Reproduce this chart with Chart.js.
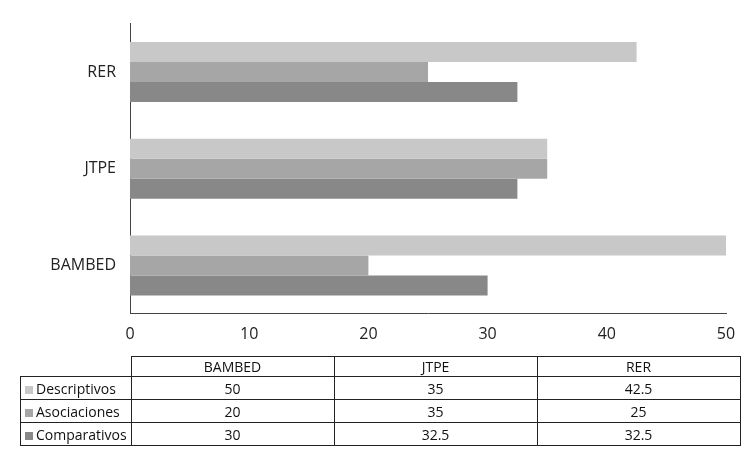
<!DOCTYPE html>
<html>
<head>
<meta charset="utf-8">
<script src="https://cdn.jsdelivr.net/npm/chart.js@4"></script>
<style>
  html, body { margin: 0; padding: 0; background: #fff; }
  #wrap { position: relative; width: 756px; height: 467px; font-family: "Open Sans", sans-serif; }
  #box { position: absolute; left: 0; top: 0; width: 756px; height: 361px; }
  table.dt { position: absolute; left: 20px; top: 356px; border-collapse: collapse; font-size: 14px; color: #111; }
  table.dt td { border: 1px solid #222; text-align: center; padding: 0; line-height: 19px; }
  table.dt tr.hd td { height: 18px; }
  table.dt tr.row td { height: 22px; }
  table.dt td.blank { border-top: none; border-left: none; }
  table.dt td.name { text-align: left; padding-left: 4px; white-space: nowrap; }
  .sw { display: inline-block; width: 8px; height: 8px; margin-right: 3px; vertical-align: 0px; }
</style>
</head>
<body>
<div id="wrap">
  <div id="box"><canvas id="barChart"></canvas></div>
  <table class="dt" id="dataTable"></table>
</div>
<script>
// ---- Data ----
const categories = ['BAMBED', 'JTPE', 'RER'];
const seriesNames = ['Descriptivos', 'Asociaciones', 'Comparativos'];
const descriptivos = [50, 35, 42.5];
const asociaciones = [20, 35, 25];
const comparativos = [30, 32.5, 32.5];
const xTicks = [0, 10, 20, 30, 40, 50];

const seriesValues = [descriptivos, asociaciones, comparativos];
const seriesColors = ['#c8c8c8', '#a6a6a6', '#888888'];

// ---- Chart ----
const ctx = document.getElementById('barChart');
new Chart(ctx, {
    type: 'bar',
    data: {
        labels: categories,
        datasets: seriesNames.map((name, i) => ({
            label: name,
            data: seriesValues[i],
            backgroundColor: seriesColors[i],
            borderWidth: 0,
            categoryPercentage: 0.62,
            barPercentage: 1
        }))
    },
    options: {
        indexAxis: 'y',
        responsive: true,
        maintainAspectRatio: false,
        animation: false,
        layout: { padding: { top: 18, right: 30, bottom: 6, left: 0 } },
        plugins: {
            legend: { display: false },
            tooltip: { enabled: false }
        },
        scales: {
            x: {
                min: 0,
                max: 50,
                afterBuildTicks: (scale) => { scale.ticks = xTicks.map(v => ({ value: v })); },
                grid: { display: false, drawTicks: false },
                border: { display: true, color: '#444', width: 1 },
                ticks: { color: '#222', font: { family: 'Open Sans', size: 16 }, padding: 11 }
            },
            y: {
                reverse: true,
                afterFit: (scale) => { scale.width = 130; },
                grid: { display: false, drawTicks: false },
                border: { display: true, color: '#444', width: 1 },
                ticks: { color: '#222', font: { family: 'Open Sans', size: 16 }, padding: 14 }
            }
        }
    }
});

// ---- Data Table ----
function renderTable() {
    const table = document.getElementById('dataTable');
    const colW = [110, 202, 202, 202];
    let html = '<tr class="hd"><td class="blank" style="width:' + colW[0] + 'px"></td>' +
        categories.map((c, j) => `<td style="width:${colW[j + 1]}px">${c}</td>`).join('') + '</tr>';
    seriesNames.forEach((name, i) => {
        html += `<tr class="row"><td class="name"><span class="sw" style="background:${seriesColors[i]}"></span>${name}</td>` +
            seriesValues[i].map(v => `<td>${v}</td>`).join('') + '</tr>';
    });
    table.innerHTML = html;
}
renderTable();
</script>
</body>
</html>
